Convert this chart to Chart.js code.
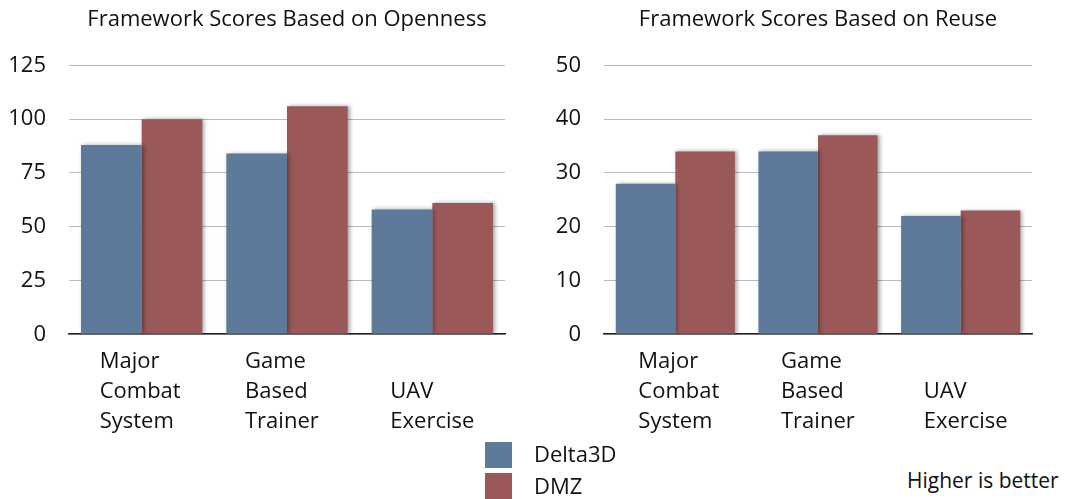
<!DOCTYPE html>
<html>
<head>
<meta charset="utf-8">
<script src="https://cdn.jsdelivr.net/npm/chart.js@4"></script>
<style>
  body { margin: 0; background: #fff; width: 1072px; height: 499px; overflow: hidden; position: relative; font-family: "Open Sans", sans-serif; }
  .box { position: absolute; top: 0; width: 536px; height: 453px; }
  .sw { position: absolute; width: 27px; height: 26px; }
  .lbl { position: absolute; font-size: 22px; color: #111; }
</style>
</head>
<body>
<div class="box" style="left:0"><canvas id="c1"></canvas></div>
<div class="box" style="left:536px"><canvas id="c2"></canvas></div>

<div class="sw" style="left:485px;top:442px;background:#5d7a9a"></div>
<div class="lbl" style="left:534px;top:438px">Delta3D</div>
<div class="sw" style="left:485px;top:473px;background:#9b5859"></div>
<div class="lbl" style="left:534px;top:470px">DMZ</div>
<div class="lbl" style="left:907px;top:466px;font-size:21px">Higher is better</div>

<script>
// data
const categories = [["Major", "Combat", "System"], ["Game", "Based", "Trainer"], ["", "UAV", "Exercise"]];
const seriesNames = ["Delta3D", "DMZ"];
const opennessDelta3D = [88, 84, 58];
const opennessDMZ = [100, 106, 61];
const reuseDelta3D = [28, 34, 22];
const reuseDMZ = [34, 37, 23];
const colors = ["#5d7a9a", "#9b5859"];

// soft shadow on the bars, like the original slide
const barShadow = {
    id: "barShadow",
    beforeDatasetsDraw(chart) {
        const ctx = chart.ctx;
        ctx.save();
        ctx.shadowColor = "rgba(0,0,0,0.35)";
        ctx.shadowBlur = 4;
        ctx.shadowOffsetX = 2;
        ctx.shadowOffsetY = 0;
    },
    afterDatasetsDraw(chart) {
        chart.ctx.restore();
    }
};

function makeChart(id, title, a, b, max, step, axisWidth, padRight, labelShift) {
    return new Chart(document.getElementById(id), {
        type: "bar",
        data: {
            labels: categories,
            datasets: [
                { label: seriesNames[0], data: a, backgroundColor: colors[0] },
                { label: seriesNames[1], data: b, backgroundColor: colors[1] }
            ]
        },
        options: {
            responsive: true,
            maintainAspectRatio: false,
            animation: false,
            layout: { padding: { right: padRight, bottom: 3 } },
            datasets: { bar: { categoryPercentage: 0.835, barPercentage: 1 } },
            plugins: {
                legend: { display: false },
                tooltip: { enabled: false },
                title: {
                    display: true,
                    text: title,
                    fullSize: false,
                    color: "#111",
                    font: { family: "Open Sans", size: 22, weight: "normal" },
                    padding: { top: 7, bottom: 32 }
                }
            },
            scales: {
                x: {
                    grid: { display: false, drawTicks: false },
                    border: { color: "#222", width: 1.5 },
                    ticks: {
                        color: "#111",
                        align: "start",
                        labelOffset: labelShift,
                        padding: 13,
                        autoSkip: false,
                        maxRotation: 0,
                        font: { family: "Open Sans", size: 22, lineHeight: 1.36 }
                    }
                },
                y: {
                    min: 0,
                    max: max,
                    grid: { color: "#bbb", drawTicks: false },
                    border: { display: false },
                    afterFit(scale) { scale.width = axisWidth; },
                    ticks: {
                        stepSize: step,
                        color: "#111",
                        padding: 23,
                        font: { family: "Open Sans", size: 22 }
                    }
                }
            }
        },
        plugins: [barShadow]
    });
}

makeChart("c1", "Framework Scores Based on Openness", opennessDelta3D, opennessDMZ, 125, 25, 69, 31, -42);
makeChart("c2", "Framework Scores Based on Reuse", reuseDelta3D, reuseDMZ, 50, 10, 68, 40, -37);
</script>
</body>
</html>
